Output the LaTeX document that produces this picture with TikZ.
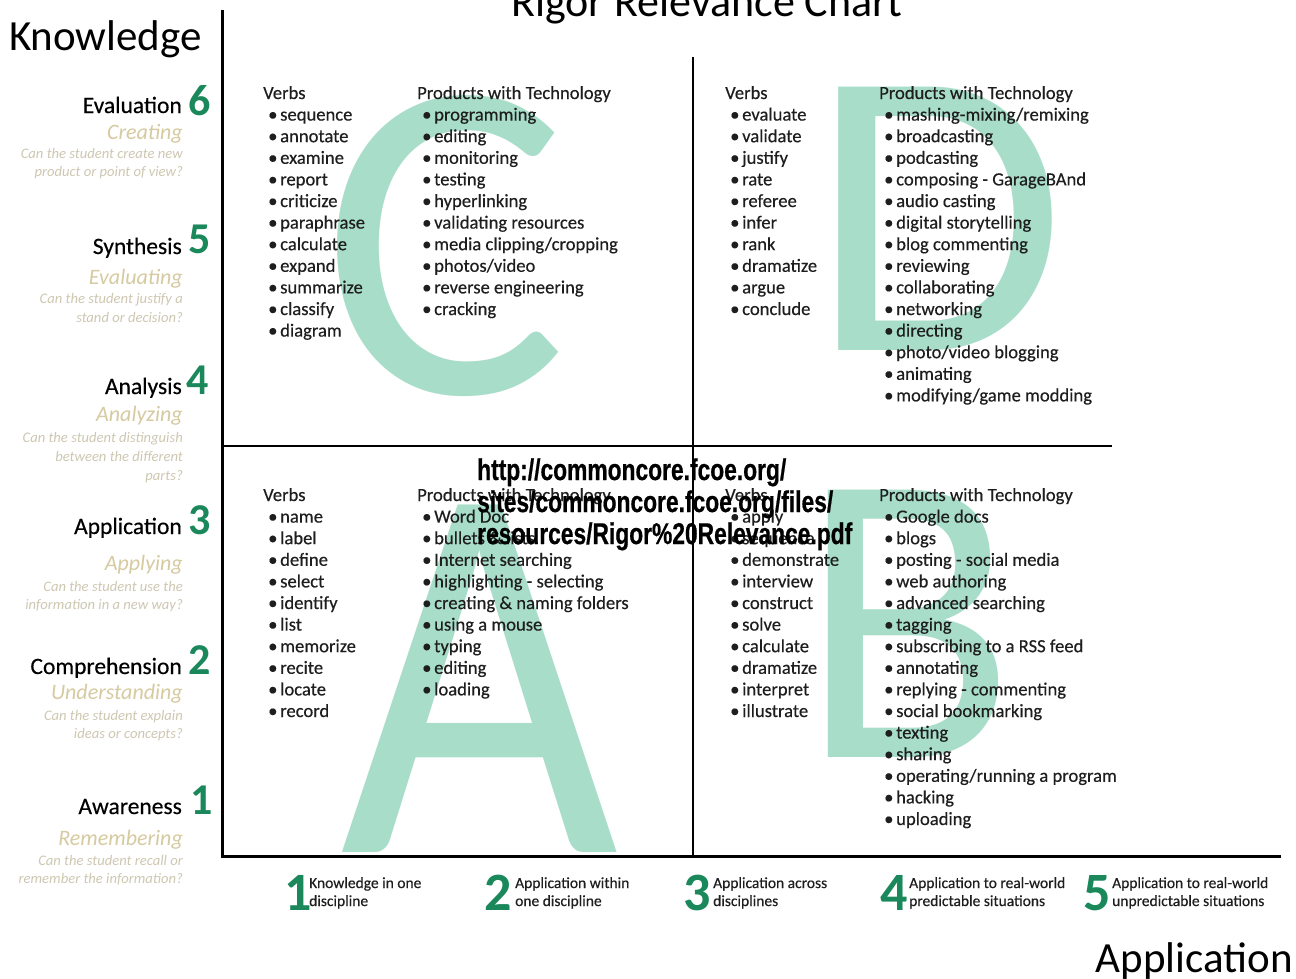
\documentclass[tikz,border=0pt]{standalone}
\usepackage{fontspec}
\setmainfont{Carlito}
\newfontfamily\listfont[FakeBold=0.35]{Carlito}
\newfontfamily\urlfont[FakeStretch=0.76,FakeBold=0.6]{Liberation Sans}
\usepackage{graphicx}
\definecolor{mint}{RGB}{168,221,202}
\definecolor{numgreen}{RGB}{26,136,90}
\definecolor{tanc}{RGB}{214,202,160}
\definecolor{qgray}{RGB}{206,200,178}
\definecolor{ink}{RGB}{30,30,30}
\tikzset{
  axis/.style={line width=3pt, black},
  divider/.style={line width=2.6pt, black},
  hdr/.style={anchor=base west, inner sep=0pt, text=ink, font=\fontsize{18.6}{21}\listfont},
  item/.style={anchor=base west, inner sep=0pt, text=ink, font=\fontsize{18.6}{21}\listfont},
  lvl/.style={anchor=base east, inner sep=0pt, text=black, font=\fontsize{23.5}{26}\listfont},
  lvlnum/.style={anchor=base west, inner sep=0pt, text=numgreen, font=\fontsize{44}{48}\selectfont\bfseries},
  lvlit/.style={anchor=base east, inner sep=0pt, text=tanc, font=\fontsize{22}{26}\selectfont\itshape},
  lvlq/.style={anchor=base east, inner sep=0pt, text=qgray, font=\fontsize{14.6}{16}\selectfont\itshape},
  bnum/.style={anchor=base west, inner sep=0pt, text=numgreen, font=\fontsize{54}{58}\selectfont\bfseries},
  btxt/.style={anchor=base west, inner sep=0pt, text=ink, font=\fontsize{15.5}{17}\listfont},
  big/.style={anchor=base west, inner sep=0pt, text=black, font=\fontsize{43}{46}\selectfont},
  bigletter/.style={anchor=north west, inner sep=0pt, text=mint},
  urltxt/.style={anchor=base west, inner sep=0pt, text=black, font=\fontsize{30}{32}\urlfont\bfseries},
}
\newcommand\qlist[5]{%
  \node[hdr] (#1-h) at (#2,#3) {#4};
  \foreach \t [count=\i] in {#5} {
    \node[item] (#1-\i) at (#2+5,{#3+\i*21.6}) {\makebox[12pt][l]{\textbullet}\t};
  }
}
\begin{document}
\begin{tikzpicture}[x=1pt,y=-1pt]
\useasboundingbox[fill=white] (0,0) rectangle (1296,978);

% big quadrant letters
\node[bigletter] (bigC) at (322,95) {\resizebox{245pt}{297pt}{C}};
\node[bigletter] (bigD) at (810,87) {\resizebox{255pt}{263pt}{D}};
\node[bigletter] (bigA) at (340,505) {\resizebox{278pt}{347pt}{A}};
\node[bigletter] (bigB) at (800,490) {\resizebox{215pt}{267pt}{B}};

% axes
\coordinate (ytop) at (222,10);
\coordinate (orig) at (222,856);
\coordinate (xend) at (1281,856);
\coordinate (mtop) at (693,57);
\coordinate (mbot) at (693,856);
\coordinate (hl) at (222,446);
\coordinate (hr) at (1112,446);
\draw[axis] (ytop) -- (orig) -- (xend);
\draw[divider] (mtop) -- (mbot);
\draw[divider] (hl) -- (hr);

% title and axis names
\node[anchor=base, inner sep=0pt, font=\fontsize{44}{48}\selectfont] (title) at (707,16) {Rigor Relevance Chart};
\node[big, anchor=base west] (know) at (9,50) {Knowledge};
\node[big, anchor=base east] (appl) at (1293,972) {Application};

% left levels
\node[lvl] (l6) at (182,113) {Evaluation};
\node[lvlnum] (n6) at (188,115) {6};
\node[lvlit] (i6) at (183,139) {Creating};
\node[lvlq] (q6a) at (183,158) {Can the student create new};
\node[lvlq] (q6b) at (183,176) {product or point of view?};

\node[lvl] (l5) at (182,254) {Synthesis};
\node[lvlnum] (n5) at (188,253) {5};
\node[lvlit] (i5) at (183,284) {Evaluating};
\node[lvlq] (q5a) at (183,303) {Can the student justify a};
\node[lvlq] (q5b) at (183,322) {stand or decision?};

\node[lvl] (l4) at (182,394) {Analysis};
\node[lvlnum] (n4) at (186,394) {4};
\node[lvlit] (i4) at (183,421) {Analyzing};
\node[lvlq] (q4a) at (183,442) {Can the student distinguish};
\node[lvlq] (q4b) at (183,461) {between the different};
\node[lvlq] (q4c) at (183,480) {parts?};

\node[lvl] (l3) at (182,534) {Application};
\node[lvlnum] (n3) at (188,534) {3};
\node[lvlit] (i3) at (183,570) {Applying};
\node[lvlq] (q3a) at (183,591) {Can the student use the};
\node[lvlq] (q3b) at (183,609) {information in a new way?};

\node[lvl] (l2) at (182,674) {Comprehension};
\node[lvlnum] (n2) at (188,674) {2};
\node[lvlit] (i2) at (183,699) {Understanding};
\node[lvlq] (q2a) at (183,720) {Can the student explain};
\node[lvlq] (q2b) at (183,738) {ideas or concepts?};

\node[lvl] (l1) at (182,814) {Awareness};
\node[lvlnum] (n1) at (190,814) {1};
\node[lvlit] (i1) at (183,845) {Remembering};
\node[lvlq] (q1a) at (183,865) {Can the student recall or};
\node[lvlq] (q1b) at (183,883) {remember the information?};

% bottom scale
\node[bnum] (b1) at (284,910) {1};
\node[btxt] (t1a) at (309,888) {Knowledge in one};
\node[btxt] (t1b) at (309,906) {discipline};
\node[bnum] (b2) at (484,910) {2};
\node[btxt] (t2a) at (515,888) {Application within};
\node[btxt] (t2b) at (515,906) {one discipline};
\node[bnum] (b3) at (683,910) {3};
\node[btxt] (t3a) at (713,888) {Application across};
\node[btxt] (t3b) at (713,906) {disciplines};
\node[bnum] (b4) at (880,910) {4};
\node[btxt] (t4a) at (909,888) {Application to real-world};
\node[btxt] (t4b) at (909,906) {predictable situations};
\node[bnum] (b5) at (1083,910) {5};
\node[btxt] (t5a) at (1112,888) {Application to real-world};
\node[btxt] (t5b) at (1112,906) {unpredictable situations};

% quadrant lists
\qlist{cv}{263}{99}{Verbs}{sequence,annotate,examine,report,criticize,paraphrase,calculate,expand,summarize,classify,diagram}
\qlist{cp}{417}{99}{Products with Technology}{programming,editing,monitoring,testing,hyperlinking,validating resources,media clipping/cropping,photos/video,reverse engineering,cracking}
\qlist{dv}{725}{99}{Verbs}{evaluate,validate,justify,rate,referee,infer,rank,dramatize,argue,conclude}
\qlist{dp}{879}{99}{Products with Technology}{mashing-mixing/remixing,broadcasting,podcasting,composing - GarageBAnd,audio casting,digital storytelling,blog commenting,reviewing,collaborating,networking,directing,photo/video blogging,animating,modifying/game modding}
\qlist{av}{263}{501}{Verbs}{name,label,define,select,identify,list,memorize,recite,locate,record}
\qlist{ap}{417}{501}{Products with Technology}{Word Doc,bullets \& lists,Internet searching,highlighting - selecting,creating \& naming folders,using a mouse,typing,editing,loading}
\qlist{bv}{725}{501}{Verbs}{apply,sequence,demonstrate,interview,construct,solve,calculate,dramatize,interpret,illustrate}
\qlist{bp}{879}{501}{Products with Technology}{Google docs,blogs,posting - social media,web authoring,advanced searching,tagging,subscribing to a RSS feed,annotating,replying - commenting,social bookmarking,texting,sharing,operating/running a program,hacking,uploading}

% URL overlay
\node[urltxt] (u1) at (477,480) {http://commoncore.fcoe.org/};
\node[urltxt] (u2) at (477,512) {sites/commoncore.fcoe.org/files/};
\node[urltxt] (u3) at (477,544) {resources/Rigor\%20Relevance.pdf};
\end{tikzpicture}
\end{document}
